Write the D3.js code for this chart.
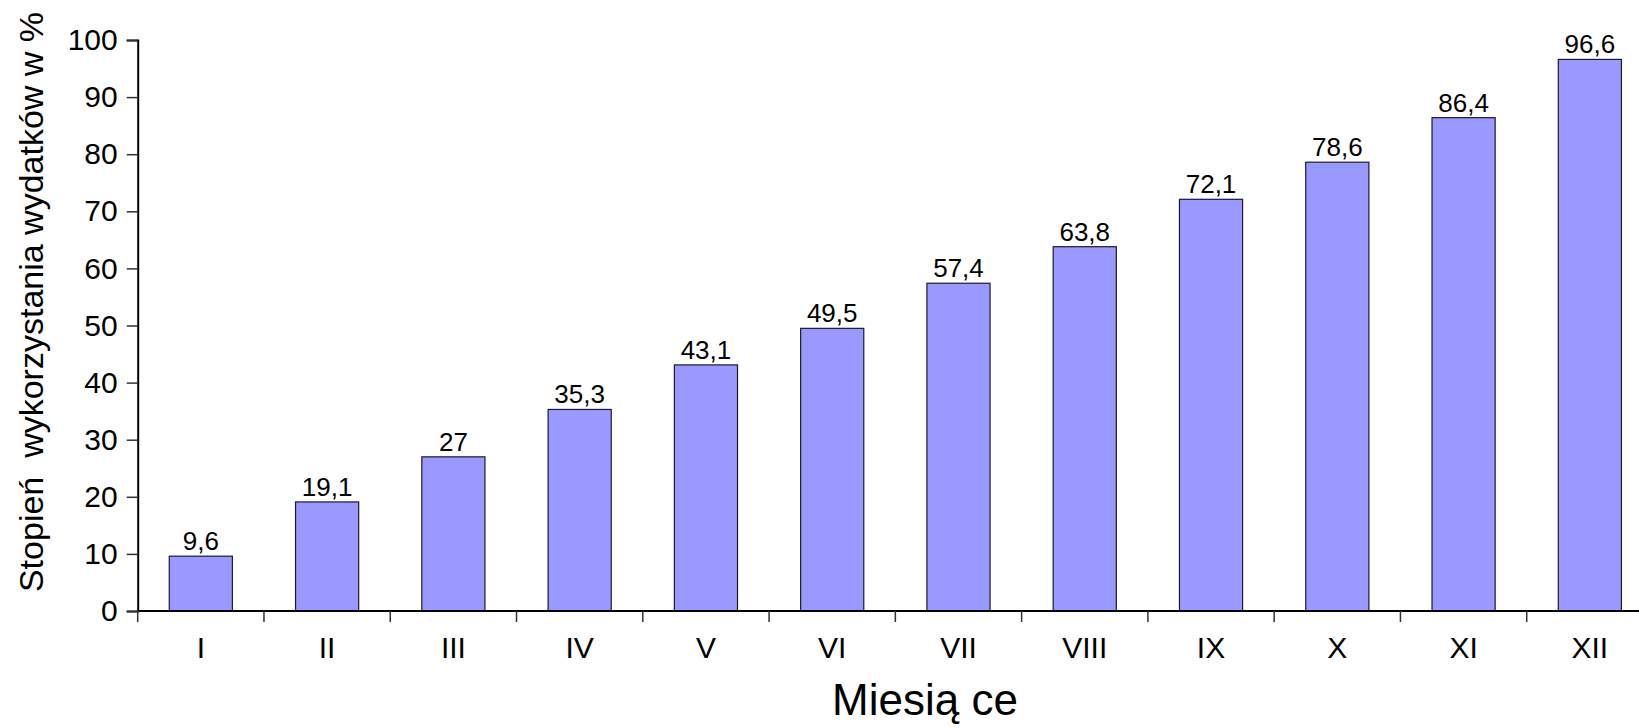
<!DOCTYPE html>
<html>
<head>
<meta charset="utf-8">
<script src="https://cdn.jsdelivr.net/npm/d3@7"></script>
<style>
  body { margin: 0; background: #fff; }
  text { font-family: "Liberation Sans", Arial, sans-serif; fill: #000; }
</style>
</head>
<body>
<div id="chart"></div>
<script>
// chart data
var months = ["I", "II", "III", "IV", "V", "VI", "VII", "VIII", "IX", "X", "XI", "XII"]
var values = [9.6, 19.1, 27, 35.3, 43.1, 49.5, 57.4, 63.8, 72.1, 78.6, 86.4, 96.6]
var yTicks = [0, 10, 20, 30, 40, 50, 60, 70, 80, 90, 100]

var width = 1639
var height = 728
// plot edges (note: "top" is reserved on window, so use plot* names)
var plotLeft = 137.7, plotRight = 1653, plotTop = 40, plotBottom = 611

var svg = d3.select("#chart")
    .append("svg")
    .attr("width", width)
    .attr("height", height)

var x = d3.scaleBand()
    .domain(months)
    .range([plotLeft, plotRight])
    .paddingInner(0.5)
    .paddingOuter(0.25)

var y = d3.scaleLinear()
    .domain([0, 100])
    .range([plotBottom, plotTop])

// bars
svg.append("g")
    .selectAll("rect")
    .data(values)
    .enter()
    .append("rect")
    .attr("x", function(d, i) { return x(months[i]) })
    .attr("y", function(d) { return y(d) })
    .attr("width", x.bandwidth())
    .attr("height", function(d) { return y(0) - y(d) })
    .style("fill", "#9999ff")
    .style("stroke", "#1a1a33")
    .style("stroke-width", 1.2)

// value labels
svg.append("g")
    .selectAll("text")
    .data(values)
    .enter()
    .append("text")
    .attr("x", function(d, i) { return x(months[i]) + x.bandwidth() / 2 })
    .attr("y", function(d) { return y(d) - 6 })
    .attr("text-anchor", "middle")
    .style("font-size", "26px")
    .text(function(d) { return String(d).replace(".", ",") })

// y axis
var yAxis = svg.append("g")
    .attr("transform", "translate(" + plotLeft + ",0)")
    .call(d3.axisLeft(y).tickValues(yTicks).tickSize(11).tickPadding(9).tickFormat(d3.format("d")))
yAxis.select(".domain").attr("stroke", "#000").attr("stroke-width", 2)
yAxis.selectAll(".tick line").attr("stroke", "#333").attr("stroke-width", 1.5)
yAxis.selectAll(".tick text")
    .style("font-size", "30px")
    .style("font-family", "Liberation Sans, Arial, sans-serif")
    .attr("fill", "#000")

// x axis: line plus tick marks between categories
svg.append("line")
    .attr("x1", plotLeft).attr("x2", plotRight)
    .attr("y1", plotBottom).attr("y2", plotBottom)
    .attr("stroke", "#000").attr("stroke-width", 2)

var step = x.step()
svg.append("g")
    .selectAll("line")
    .data(d3.range(months.length + 1))
    .enter()
    .append("line")
    .attr("x1", function(i) { return plotLeft + i * step })
    .attr("x2", function(i) { return plotLeft + i * step })
    .attr("y1", plotBottom)
    .attr("y2", plotBottom + 11)
    .attr("stroke", "#333")
    .attr("stroke-width", 1.5)

svg.append("g")
    .selectAll("text")
    .data(months)
    .enter()
    .append("text")
    .attr("x", function(d) { return x(d) + x.bandwidth() / 2 })
    .attr("y", 658)
    .attr("text-anchor", "middle")
    .style("font-size", "30px")
    .text(function(d) { return d })

// axis titles
svg.append("text")
    .attr("x", 925)
    .attr("y", 715)
    .attr("text-anchor", "middle")
    .style("font-size", "44px")
    .text("Miesią ce")

svg.append("text")
    .attr("transform", "translate(43,302) rotate(-90)")
    .attr("text-anchor", "middle")
    .style("font-size", "34px")
    .style("white-space", "pre")
    .attr("xml:space", "preserve")
    .text("Stopień  wykorzystania wydatków w %")
</script>
</body>
</html>
